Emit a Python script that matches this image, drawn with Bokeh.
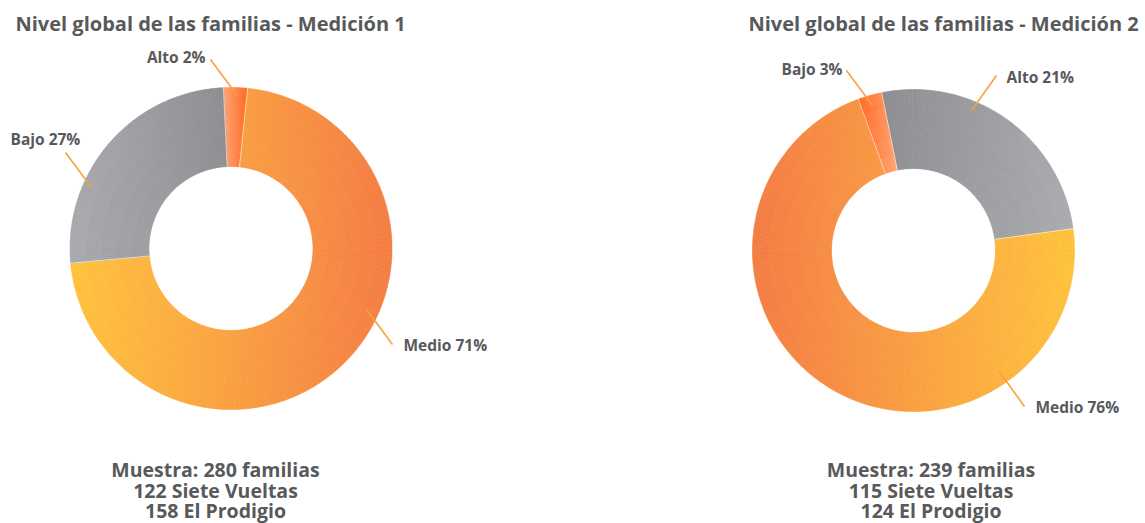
import numpy as np
from bokeh.plotting import figure
from bokeh.models import Range1d
from bokeh.core.properties import value
from bokeh.embed import file_html
from bokeh.resources import INLINE

# ---------------- data ----------------
titles = ["Nivel global de las familias - Medición 1",
          "Nivel global de las familias - Medición 2"]

# slices in clockwise drawing order
cats_1 = ["Alto", "Medio", "Bajo"]
label_pct_1 = [2, 71, 27]          # percentages printed on the labels
arc_share_1 = [2.4, 71.9, 25.7]    # share of the ring as drawn

cats_2 = ["Alto", "Medio", "Bajo"]
label_pct_2 = [21, 76, 3]
arc_share_2 = [26.0, 71.6, 2.4]

sample_1 = ["Muestra: 280 familias", "122 Siete Vueltas", "158 El Prodigio"]
sample_2 = ["Muestra: 239 familias", "115 Siete Vueltas", "124 El Prodigio"]

# ---------------- layout / style ----------------
W, H = 1145, 523
FONT = value("Open Sans")
TXT = "#58595B"
LINE_C = "#F8A23C"
R_OUT, R_IN = 161, 82
N_RAD = 5
TXT_SHIFT = 7   # renderer places text slightly low; compensate


def Y(py):
    return H - py


def YT(py):
    return H - (py - TXT_SHIFT)


def hex2rgb(h):
    h = h.lstrip("#")
    return np.array([int(h[i:i + 2], 16) for i in (0, 2, 4)], float)


def mix(c0, c1, f):
    a, b = hex2rgb(c0), hex2rgb(c1)
    c = a + (b - a) * f
    return "#%02x%02x%02x" % tuple(int(round(v)) for v in c)


charts = [
    dict(cats=cats_1, pct=label_pct_1, share=arc_share_1, sample=sample_1,
         title=titles[0], title_x=15, cx=230.5, cy=248, start=-2.7, sample_x=215,
         grads=[("#FFA473", "#FF6820"), ("#FFC33C", "#F47B43"), ("#A9AAAE", "#8C8D91")],
         labels=[(205, 63, "right"), (403, 351, "left"), (10, 145, "left")],
         conns=[((236, 94), (210, 59)), ((366, 309), (392, 344)), ((91, 187), (65, 152))]),
    dict(cats=cats_2, pct=label_pct_2, share=arc_share_2, sample=sample_2,
         title=titles[1], title_x=748, cx=913, cy=250, start=-11.4, sample_x=930.5,
         grads=[("#8C8D91", "#AAABAF"), ("#F47B43", "#FFC33C"), ("#FF6820", "#FFA473")],
         labels=[(1006, 83, "left"), (1035, 413, "left"), (842, 75, "right")],
         conns=[((971, 110), (996, 75)), ((998, 370), (1024, 406)), ((872, 105), (846, 70))]),
]

p = figure(width=W, height=H, x_range=Range1d(0, W), y_range=Range1d(0, H),
           output_backend="svg", toolbar_location=None, min_border=0)
p.axis.visible = False
p.grid.visible = False
p.outline_line_color = None
p.background_fill_color = "white"
p.border_fill_color = "white"

for ch in charts:
    cx, cy = ch["cx"], Y(ch["cy"])
    total = sum(ch["share"])
    theta = ch["start"]
    bounds = []
    for share, (c_left, c_right) in zip(ch["share"], ch["grads"]):
        span = 360.0 * share / total
        t0, t1 = theta, theta + span
        bounds.append(t0)
        ts = np.radians(np.linspace(t0, t1, 400))
        xs = np.concatenate([cx + R_OUT * np.sin(ts), cx + R_IN * np.sin(ts)])
        xmin, xmax = xs.min(), xs.max()
        n_ang = max(2, int(np.ceil(span / 1.0)))
        a_edges = np.linspace(t0, t1, n_ang + 1)
        r_edges = np.linspace(R_IN, R_OUT, N_RAD + 1)
        sa, ea, ri, ro, cols = [], [], [], [], []
        for i in range(n_ang):
            am = np.radians(0.5 * (a_edges[i] + a_edges[i + 1]))
            for j in range(N_RAD):
                rm = 0.5 * (r_edges[j] + r_edges[j + 1])
                xm = cx + rm * np.sin(am)
                f = (xm - xmin) / (xmax - xmin) if xmax > xmin else 0.5
                cols.append(mix(c_left, c_right, min(max(f, 0), 1)))
                sa.append(np.radians(90 - a_edges[i + 1]))
                ea.append(np.radians(90 - a_edges[i]))
                ri.append(r_edges[j])
                ro.append(r_edges[j + 1])
        p.annular_wedge(x=cx, y=cy, inner_radius=ri, outer_radius=ro,
                        start_angle=sa, end_angle=ea, fill_color=cols,
                        line_color=cols, line_width=0.6)
        theta = t1
    # thin white separators between slices
    b = np.radians(np.array(bounds))
    p.segment(x0=cx + R_IN * np.sin(b), y0=cy + R_IN * np.cos(b),
              x1=cx + (R_OUT + 1) * np.sin(b), y1=cy + (R_OUT + 1) * np.cos(b),
              line_color="white", line_width=0.8, line_alpha=0.7)

    # connectors
    for (a, bb) in ch["conns"]:
        p.segment(x0=a[0], y0=Y(a[1]), x1=bb[0], y1=Y(bb[1]), line_color=LINE_C, line_width=1.6)

    # labels
    for cat, pct, (lx, ly, al) in zip(ch["cats"], ch["pct"], ch["labels"]):
        p.text(x=[lx], y=[YT(ly)], text=[f"{cat} {pct}%"], text_font=FONT, text_font_size="15.5px",
               text_font_style="bold", text_color=TXT, text_align=al, text_baseline="alphabetic")

    # title
    p.text(x=[ch["title_x"]], y=[YT(30)], text=[ch["title"]], text_font=FONT, text_font_size="20px",
           text_font_style="bold", text_color=TXT, text_align="left", text_baseline="alphabetic")

    # sample text
    for k, line in enumerate(ch["sample"]):
        p.text(x=[ch["sample_x"]], y=[YT(476 + 20.5 * k)], text=[line], text_font=FONT,
               text_font_size="19.5px", text_font_style="bold", text_color=TXT,
               text_align="center", text_baseline="alphabetic")

open("out.html", "w").write(file_html(p, INLINE))
